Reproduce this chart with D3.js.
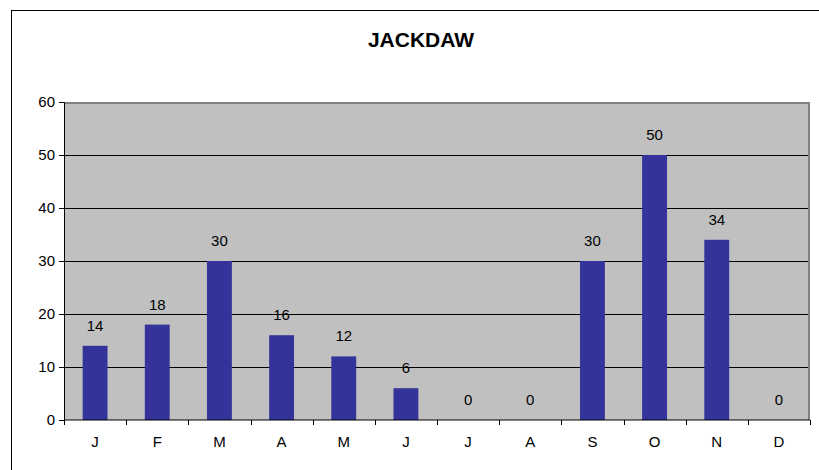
<!DOCTYPE html>
<html>
<head>
<meta charset="utf-8">
<script src="https://cdn.jsdelivr.net/npm/d3@7"></script>
<style>
  body { margin: 0; background: #fff; }
  text { font-family: "Liberation Sans", Arial, sans-serif; }
</style>
</head>
<body>
<div id="chart"></div>
<script>
var months = ["J", "F", "M", "A", "M", "J", "J", "A", "S", "O", "N", "D"];
var counts = [14, 18, 30, 16, 12, 6, 0, 0, 30, 50, 34, 0];
var yTicks = [0, 10, 20, 30, 40, 50, 60];

var width = 819;
var height = 470;
var margin = { top: 102, right: 9, bottom: 50, left: 64 };

var svg = d3.select("#chart").append("svg")
    .attr("width", width)
    .attr("height", height);

// outer frame (runs off the right and bottom edges)
svg.append("rect")
    .attr("x", 11.5)
    .attr("y", 10.5)
    .attr("width", 830)
    .attr("height", 480)
    .attr("fill", "#fff")
    .attr("stroke", "#000")
    .attr("stroke-width", 1);

svg.append("text")
    .attr("x", 421)
    .attr("y", 47)
    .attr("text-anchor", "middle")
    .attr("font-size", "21px")
    .attr("font-weight", "bold")
    .text("JACKDAW");

var x = d3.scaleBand()
    .domain(d3.range(months.length))
    .range([margin.left, width - margin.right])
    .paddingInner(0.6)
    .paddingOuter(0.3);

var y = d3.scaleLinear()
    .domain([0, 60])
    .range([height - margin.bottom, margin.top]);

var g = svg.append("g");

// plot background
g.append("rect")
    .attr("x", margin.left)
    .attr("y", margin.top)
    .attr("width", width - margin.right - margin.left)
    .attr("height", y(0) - margin.top)
    .attr("fill", "#c0c0c0");

// gridlines
g.selectAll(".grid")
    .data(yTicks.filter(function(d) { return d > 0 && d < 60; }))
    .enter()
    .append("line")
    .attr("class", "grid")
    .attr("x1", margin.left)
    .attr("x2", width - margin.right)
    .attr("y1", function(d) { return Math.round(y(d)) + 0.5; })
    .attr("y2", function(d) { return Math.round(y(d)) + 0.5; })
    .attr("stroke", "#000");

// grey top and right border of plot
g.append("path")
    .attr("d", "M" + margin.left + "," + (margin.top + 1) + "H" + (width - margin.right - 1) + "V" + y(0))
    .attr("fill", "none")
    .attr("stroke", "#808080")
    .attr("stroke-width", 2);

g.selectAll(".bar")
    .data(counts)
    .enter()
    .append("rect")
    .attr("class", "bar")
    .attr("x", function(d, i) { return x(i); })
    .attr("y", function(d) { return y(d); })
    .attr("width", x.bandwidth())
    .attr("height", function(d) { return y(0) - y(d); })
    .attr("fill", "#333399");

g.selectAll(".val")
    .data(counts)
    .enter()
    .append("text")
    .attr("class", "val")
    .attr("x", function(d, i) { return x(i) + x.bandwidth() / 2; })
    .attr("y", function(d) { return y(d) - 15; })
    .attr("text-anchor", "middle")
    .attr("font-size", "15px")
    .text(function(d) { return d; });

// y axis
var yAxis = d3.axisLeft(y)
    .tickValues(yTicks)
    .tickSize(5)
    .tickPadding(4);

svg.append("g")
    .attr("transform", "translate(" + margin.left + ",0)")
    .call(yAxis)
    .call(function(s) {
        s.select(".domain").attr("stroke", "#000");
        s.selectAll("text").attr("font-size", "15px").attr("fill", "#000");
    });

// x axis with ticks between categories
var xEdge = d3.scaleLinear()
    .domain([0, months.length])
    .range([margin.left, width - margin.right]);

var xAxisG = svg.append("g")
    .attr("transform", "translate(0," + y(0) + ")");

xAxisG.append("line")
    .attr("x1", margin.left)
    .attr("x2", width - margin.right)
    .attr("stroke", "#000");

xAxisG.selectAll(".xt")
    .data(d3.range(months.length + 1))
    .enter()
    .append("line")
    .attr("class", "xt")
    .attr("x1", function(d) { return Math.round(xEdge(d)) + 0.5; })
    .attr("x2", function(d) { return Math.round(xEdge(d)) + 0.5; })
    .attr("y1", 0)
    .attr("y2", 5)
    .attr("stroke", "#000");

xAxisG.selectAll(".xl")
    .data(months)
    .enter()
    .append("text")
    .attr("class", "xl")
    .attr("x", function(d, i) { return x(i) + x.bandwidth() / 2; })
    .attr("y", 27)
    .attr("text-anchor", "middle")
    .attr("font-size", "15px")
    .text(function(d) { return d; });
</script>
</body>
</html>
